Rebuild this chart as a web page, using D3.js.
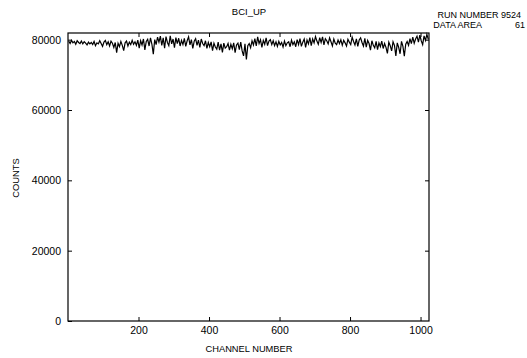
<!DOCTYPE html>
<html>
<head>
<meta charset="utf-8">
<script src="https://cdn.jsdelivr.net/npm/d3@7"></script>
<style>
  body { margin: 0; background: #fff; }
  text { font-family: "Liberation Sans", Arial, sans-serif; fill: #000; }
  .axis path { display: none; }
  .axis line { stroke: #000; }
</style>
</head>
<body>
<svg id="chart" width="527" height="358"></svg>
<script>
// counts per 4-channel bin (channels 0..1023)
const binWidth = 4;
const counts = [
  79600, 78900, 79800, 79100, 79500, 78700, 79700, 79200, 78900, 79600, 78800, 79400, 79000, 78500, 79300, 78800,
  79200, 78600, 79500, 78300, 79100, 78800, 79700, 78900, 78100, 79300, 79800, 78600, 79400, 78200, 79600, 79000,
  77800, 79200, 76300, 79000, 78000, 79500, 78400, 76900, 79100, 79600, 78200, 79300, 78600, 79800, 78700, 79400,
  78400, 79900, 77600, 79700, 78500, 80200, 77100, 79500, 80100, 78200, 80500, 78700, 75900, 80000, 78600, 80700,
  79300, 81000, 78400, 80500, 77600, 80900, 79200, 78300, 81100, 78800, 80200, 77700, 80600, 78900, 80400, 78200,
  79800, 78600, 80400, 78100, 79700, 80800, 78500, 80000, 77500, 79600, 80300, 78400, 79900, 77800, 80200, 78900,
  78300, 79700, 77500, 79200, 78000, 79400, 76900, 79000, 77900, 77300, 79300, 77000, 78800, 76400, 79000, 77600,
  78000, 78900, 77000, 78700, 77400, 79100, 76300, 78500, 79000, 77200, 79300, 76800, 75400, 78800, 74400, 78300,
  78900, 77700, 79700, 78500, 80300, 78200, 80800, 78900, 80000, 77800, 79800, 78700, 80500, 78300, 79600, 80000,
  78600, 79700, 78300, 79400, 78100, 79500, 78500, 79200, 77900, 79600, 78300, 79100, 79400, 78000, 79900, 78600,
  79400, 78000, 80000, 78600, 80300, 78100, 79300, 80200, 77800, 79900, 78800, 80600, 78300, 80200, 79100, 80900,
  79600, 78700, 80600, 79200, 80800, 78500, 80300, 79700, 78800, 80500, 79400, 78200, 80200, 79000, 78600, 79900,
  78900, 80000, 78400, 79800, 79100, 78200, 80100, 79300, 78600, 80700, 79500, 78500, 80200, 78100, 79900, 80500,
  79200, 78200, 80400, 77900, 79800, 78900, 77000, 79700, 78400, 77700, 79500, 77200, 79100, 78000, 79600, 77500,
  78900, 77800, 76100, 79300, 78300, 76800, 79400, 78400, 75400, 79100, 77800, 76000, 79500, 78100, 75300, 78700,
  79500, 78400, 80300, 78900, 80700, 79000, 80200, 81000, 79300, 81300, 79700, 78600, 81100, 79800, 81500, 80100
];
const xTicks = [200, 400, 600, 800, 1000];
const yTicks = [0, 20000, 40000, 60000, 80000];

const svg = d3.select('#chart');
const plot = {left: 68, right: 429, top: 33, bottom: 321};

const x = d3.scaleLinear().domain([0, 1024]).range([plot.left, plot.right]);
const y = d3.scaleLinear().domain([0, 81900]).range([plot.bottom, plot.top]);

// titles
svg.append('text').attr('x', 249).attr('y', 15).attr('text-anchor', 'middle')
  .style('font-size', '9.5px').text('BCI_UP');
svg.append('text').attr('x', 521).attr('y', 18).attr('text-anchor', 'end')
  .style('font-size', '9px').text('RUN NUMBER 9524');
svg.append('text').attr('x', 482).attr('y', 27.5).attr('text-anchor', 'end')
  .style('font-size', '9px').text('DATA AREA');
svg.append('text').attr('x', 525).attr('y', 27.5).attr('text-anchor', 'end')
  .style('font-size', '9px').text('61');

// axes, ticks pointing inward
svg.append('g').attr('class', 'axis')
  .attr('transform', `translate(${plot.left},0)`)
  .call(d3.axisLeft(y).tickValues(yTicks).tickSize(-4).tickPadding(7).tickFormat(d3.format('d')))
  .selectAll('text').style('font-size', '10.5px').style('font-family', '"Liberation Sans", Arial, sans-serif');

svg.append('g').attr('class', 'axis')
  .attr('transform', `translate(${plot.right},0)`)
  .call(d3.axisRight(y).tickValues(yTicks.slice(1)).tickSize(-4).tickFormat(''));

svg.append('g').attr('class', 'axis')
  .attr('transform', `translate(0,${plot.bottom})`)
  .call(d3.axisBottom(x).tickValues(xTicks).tickSize(-4).tickPadding(6).tickFormat(d3.format('d')))
  .selectAll('text').style('font-size', '10.5px').style('font-family', '"Liberation Sans", Arial, sans-serif');

svg.append('g').attr('class', 'axis')
  .attr('transform', `translate(0,${plot.top})`)
  .call(d3.axisTop(x).tickValues(xTicks).tickSize(-4).tickFormat(''));

// frame
svg.append('rect')
  .attr('x', plot.left).attr('y', plot.top)
  .attr('width', plot.right - plot.left).attr('height', plot.bottom - plot.top)
  .attr('fill', 'none').attr('stroke', '#000').attr('stroke-width', 1.2);

// histogram line
const line = d3.line()
  .x((d, i) => x(i * binWidth + binWidth / 2))
  .y(d => y(d));

svg.append('path')
  .datum(counts)
  .attr('d', line)
  .attr('fill', 'none')
  .attr('stroke', '#000')
  .attr('stroke-width', 1.2)
  .attr('stroke-linejoin', 'miter');

// axis titles
svg.append('text').attr('x', 249).attr('y', 352).attr('text-anchor', 'middle')
  .style('font-size', '9.3px').text('CHANNEL NUMBER');
svg.append('text')
  .attr('transform', 'translate(19,178) rotate(-90)')
  .attr('text-anchor', 'middle')
  .style('font-size', '9.3px').text('COUNTS');
</script>
</body>
</html>
